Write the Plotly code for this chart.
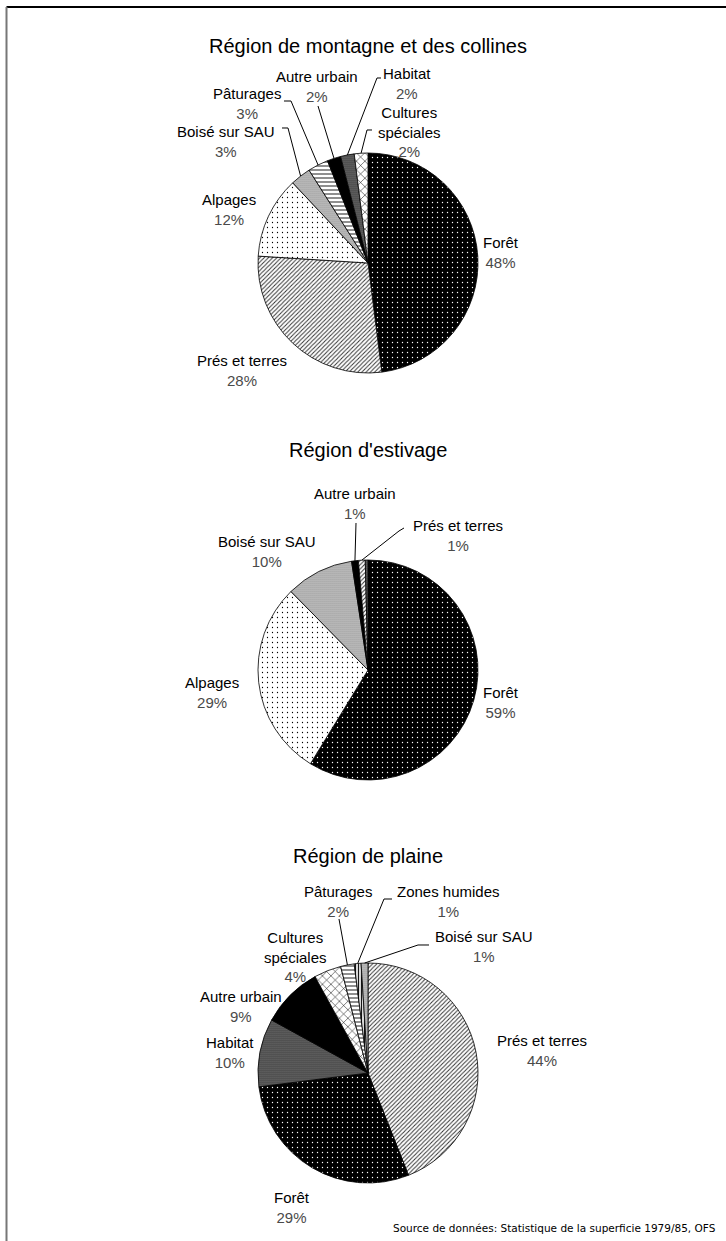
import math
import plotly.graph_objects as go

# ---- data -------------------------------------------------------------
montagne_labels = ["Forêt", "Prés et terres", "Alpages", "Boisé sur SAU",
                   "Pâturages", "Autre urbain", "Habitat", "Cultures spéciales"]
montagne_values = [48, 28, 12, 3, 3, 2, 2, 2]

estivage_labels = ["Forêt", "Alpages", "Boisé sur SAU", "Autre urbain",
                   "Prés et terres", "Habitat"]
estivage_values = [59, 29, 10, 1, 1, 0.4]

plaine_labels = ["Prés et terres", "Forêt", "Habitat", "Autre urbain",
                 "Cultures spéciales", "Pâturages", "Zones humides", "Boisé sur SAU"]
plaine_values = [44, 29, 10, 9, 4, 2, 1, 1]

titles = ["Région de montagne et des collines", "Région d'estivage", "Région de plaine"]
source_text = "Source de données: Statistique de la superficie 1979/85, OFS"

# ---- styling ----------------------------------------------------------
W, H = 726, 1241
FONT = "Liberation Sans, Arial, sans-serif"

# fill pattern per land-use category: shape, fg, bg, size, solidity
STYLE = {
    "Forêt":              (".", "#ffffff", "#000000", 5, 0.06),
    "Prés et terres":     ("/", "#333333", "#ffffff", 3, 0.33),
    "Alpages":            (".", "#000000", "#ffffff", 5, 0.05),
    "Boisé sur SAU":      (".", "#6a6a6a", "#c8c8c8", 2, 0.3),
    "Pâturages":          ("-", "#000000", "#ffffff", 4, 0.22),
    "Autre urbain":       ("", "#000000", "#000000", 5, 0.3),
    "Habitat":            (".", "#a8a8a8", "#3c3c3c", 2, 0.3),
    "Cultures spéciales": ("x", "#000000", "#ffffff", 6, 0.16),
    "Zones humides":      ("|", "#000000", "#d8d8d8", 3, 0.3),
}

DISPLAY = {"Cultures spéciales": "Cultures<br>spéciales"}


def px(x, y):
    return x / W, 1 - y / H


# pie geometry (pixel centre, radius) and label placement for each region
panels = [
    dict(labels=montagne_labels, values=montagne_values, title=titles[0],
         cx=368, cy=263, r=110, title_y=46,
         place={
             "Forêt": (501, 252, None),
             "Prés et terres": (242, 371, None),
             "Alpages": (229, 209, None),
             "Boisé sur SAU": (226, 141, [(282, 128), (288, 128)]),
             "Pâturages": (247, 103, [(284, 101), (291, 101)]),
             "Autre urbain": (317, 86, [(318, 106)]),
             "Habitat": (407, 83, [(381, 78), (377, 78)]),
             "Cultures spéciales": (409, 132, [(372, 130), (367, 130)]),
         }),
    dict(labels=estivage_labels, values=estivage_values, title=titles[1],
         cx=368, cy=670, r=110, title_y=450,
         place={
             "Forêt": (501, 702, None),
             "Alpages": (212, 692, None),
             "Boisé sur SAU": (267, 551, None),
             "Autre urbain": (355, 503, [(356, 523)]),
             "Prés et terres": (458, 536, [(404, 528), (399, 531)]),
         }),
    dict(labels=plaine_labels, values=plaine_values, title=titles[2],
         cx=368, cy=1073, r=110, title_y=856,
         place={
             "Prés et terres": (542, 1050, None),
             "Forêt": (292, 1207, None),
             "Habitat": (230, 1052, None),
             "Autre urbain": (241, 1006, None),
             "Cultures spéciales": (295, 957, None),
             "Pâturages": (338, 901, [(339, 919)]),
             "Zones humides": (448, 901, [(392, 899), (384, 899)]),
             "Boisé sur SAU": (484, 946, [(429, 945), (418, 945)]),
         }),
]

fig = go.Figure()
annotations = []
shapes = []

for p in panels:
    labels, values = p["labels"], p["values"]
    cx, cy, r = p["cx"], p["cy"], p["r"]
    x0, y1 = px(cx - r, cy - r)
    x1, y0 = px(cx + r, cy + r)
    st = [STYLE[l] for l in labels]
    fig.add_trace(go.Pie(
        labels=labels, values=values, sort=False, direction="clockwise",
        rotation=0, textinfo="none", hoverinfo="label+percent",
        domain=dict(x=[x0, x1], y=[y0, y1]), showlegend=False,
        marker=dict(
            colors=[s[2] for s in st],
            line=dict(color="#000000", width=0.8),
            pattern=dict(shape=[s[0] for s in st], fgcolor=[s[1] for s in st],
                         bgcolor=[s[2] for s in st], size=[s[3] for s in st],
                         solidity=[s[4] for s in st], fillmode="replace"),
        ),
    ))

    tx, ty = px(cx, p["title_y"])
    annotations.append(dict(x=tx, y=ty, xref="paper", yref="paper", text=p["title"],
                            showarrow=False, xanchor="center", yanchor="middle",
                            font=dict(family=FONT, size=20, color="#000000")))

    total = sum(values)
    start = 0.0
    for lab, val in zip(labels, values):
        sweep = 360.0 * val / total
        mid = math.radians(start + sweep / 2)
        start += sweep
        if lab not in p["place"]:
            continue
        lx, ly, elbow = p["place"][lab]
        name = DISPLAY.get(lab, lab)
        text = f"{name}<br><span style='color:#4a4a4a'>{val:g}%</span>"
        ax_, ay_ = px(lx, ly)
        annotations.append(dict(x=ax_, y=ay_, xref="paper", yref="paper", text=text,
                                showarrow=False, xanchor="center", yanchor="middle",
                                align="center",
                                font=dict(family=FONT, size=15, color="#000000")))
        if elbow:
            # leader line from the label to the rim of its slice
            tip = (cx + r * math.sin(mid), cy - r * math.cos(mid))
            pts = list(elbow) + [tip]
            path = "M " + " L ".join(
                f"{px(a, b)[0]:.5f},{px(a, b)[1]:.5f}" for a, b in pts)
            shapes.append(dict(type="path", path=path, xref="paper", yref="paper",
                               line=dict(color="#000000", width=1)))

# frame (top and left edges)
fx0, fy0 = px(6.5, 7)
fx1, fy1 = px(W, H)
shapes.append(dict(type="line", xref="paper", yref="paper", x0=fx0, y0=fy0, x1=fx1, y1=fy0,
                   line=dict(color="#000000", width=2)))
shapes.append(dict(type="line", xref="paper", yref="paper", x0=fx0, y0=fy0, x1=fx0, y1=0,
                   line=dict(color="#777777", width=2)))

sx, sy = px(718, 1228)
annotations.append(dict(x=sx, y=sy, xref="paper", yref="paper", text=source_text,
                        showarrow=False, xanchor="right", yanchor="middle",
                        font=dict(family="DejaVu Sans, Verdana, sans-serif", size=10.5,
                                  color="#000000")))

fig.update_layout(
    width=W, height=H, margin=dict(l=0, r=0, t=0, b=0),
    paper_bgcolor="#ffffff", plot_bgcolor="#ffffff",
    annotations=annotations, shapes=shapes,
)

fig.write_html("out.html")
